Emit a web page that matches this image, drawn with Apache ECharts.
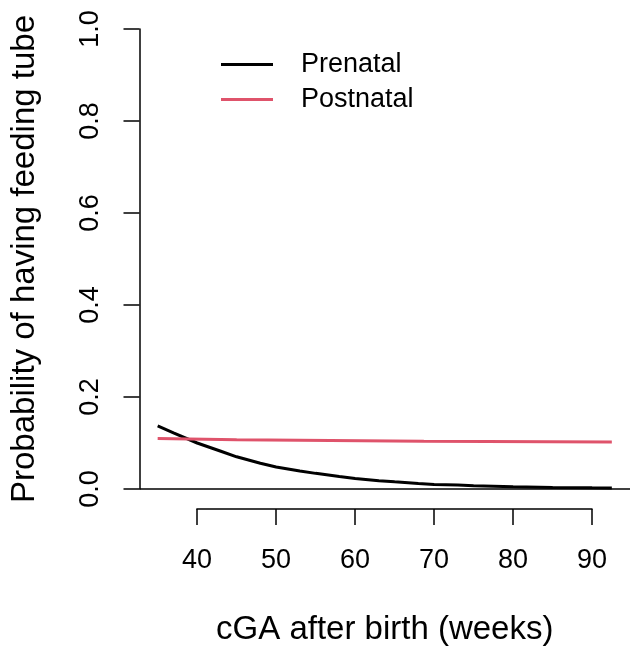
<!DOCTYPE html>
<html>
<head>
<meta charset="utf-8">
<script src="https://cdn.jsdelivr.net/npm/echarts@6/dist/echarts.min.js"></script>
<style>html,body{margin:0;padding:0;background:#fff}#c{width:633px;height:653px}</style>
</head>
<body>
<div id="c"></div>
<script>
// ---- data ----
var preWeeks = [35, 37, 40, 43, 45, 48, 50, 53, 55, 58, 60, 63, 65, 68, 70, 73, 75, 80, 85, 90, 92.5];
var preProb  = [0.137, 0.122, 0.100, 0.082, 0.070, 0.056, 0.048, 0.039, 0.034, 0.027, 0.023, 0.018, 0.0155, 0.012, 0.010, 0.0085, 0.0073, 0.0050, 0.0035, 0.0025, 0.0021];
var postWeeks = [35, 45, 68.7, 92.5];
var postProb  = [0.110, 0.107, 0.104, 0.102];
var xTicks = [40, 50, 60, 70, 80, 90];
var yTicks = [0.0, 0.2, 0.4, 0.6, 0.8, 1.0];
var seriesNames = ['Prenatal', 'Postnatal'];
var xTitle = 'cGA after birth (weeks)';
var yTitle = 'Probability of having feeding tube';

function zip(a, b) { return a.map(function (v, i) { return [v, b[i]]; }); }

var FONT = 'Liberation Sans, Arial, sans-serif';
var chart = echarts.init(document.getElementById('c'), null, {renderer: 'canvas'});
chart.setOption({
  animation: false,
  backgroundColor: '#fff',
  grid: [
    {left: 139.5, right: 3, top: 10.6, bottom: 145.6},
    {left: 196.9, right: 41, top: 10.6, bottom: 144},
    {left: 139.5, right: 3, top: 29, bottom: 164}
  ],
  xAxis: [
    {gridIndex: 0, type: 'value', min: 32.7, max: 94.8,
     axisLine: {show: false}, axisTick: {show: false}, axisLabel: {show: false}, splitLine: {show: false},
     name: xTitle, nameLocation: 'middle', nameGap: 106,
     nameTextStyle: {fontFamily: FONT, fontSize: 33, color: '#000'}},
    {gridIndex: 1, type: 'value', min: 40, max: 90, interval: 10, position: 'bottom',
     axisLine: {lineStyle: {color: '#000', width: 1.5}},
     axisTick: {inside: false, length: 16, lineStyle: {color: '#000', width: 1.5}},
     axisLabel: {margin: 38, fontFamily: FONT, fontSize: 27, color: '#000',
       customValues: xTicks},
     splitLine: {show: false}},
    {gridIndex: 2, type: 'value', show: false, min: 0, max: 1}
  ],
  yAxis: [
    {gridIndex: 0, type: 'value', min: -0.04, max: 1.04,
     axisLine: {show: false}, axisTick: {show: false}, axisLabel: {show: false}, splitLine: {show: false},
     name: yTitle, nameLocation: 'middle', nameGap: 98,
     nameTextStyle: {fontFamily: FONT, fontSize: 33, color: '#000'}},
    {gridIndex: 1, type: 'value', show: false, min: 0, max: 1},
    {gridIndex: 2, type: 'value', min: 0, max: 1, interval: 0.2, position: 'left',
     axisLine: {show: true, lineStyle: {color: '#000', width: 1.5}},
     axisTick: {show: true, inside: false, length: 16, lineStyle: {color: '#000', width: 1.5}},
     axisLabel: {rotate: 90, margin: 35, fontFamily: FONT, fontSize: 27, color: '#000',
       formatter: function (v) { return v.toFixed(1); }},
     splitLine: {show: false}}
  ],
  legend: {
    orient: 'vertical', left: 216, top: 46, itemWidth: 52, itemHeight: 3, itemGap: 8,
    icon: 'rect',
    textStyle: {fontFamily: FONT, fontSize: 27, color: '#000', padding: [0, 0, 0, 23]},
    data: seriesNames
  },
  series: [
    {name: seriesNames[0], type: 'line', xAxisIndex: 0, yAxisIndex: 0, data: zip(preWeeks, preProb),
     showSymbol: false, symbol: 'none', smooth: false, color: '#000',
     lineStyle: {color: '#000', width: 3},
     markLine: {silent: true, symbol: 'none', label: {show: false},
       lineStyle: {color: '#000', width: 1.5, type: 'solid'}, data: [{yAxis: 0}]}},
    {name: seriesNames[1], type: 'line', xAxisIndex: 0, yAxisIndex: 0, data: zip(postWeeks, postProb),
     showSymbol: false, symbol: 'none', color: '#DF536B',
     lineStyle: {color: '#DF536B', width: 3}}
  ]
});
</script>
</body>
</html>
